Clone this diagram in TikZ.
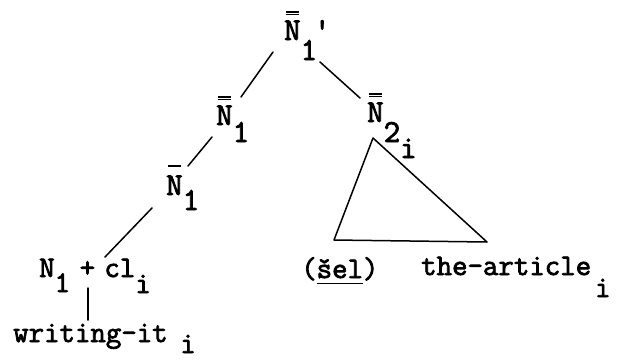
\documentclass[tikz,border=0pt]{standalone}
\usepackage{fontspec}
\usepackage{tikz}
\usetikzlibrary{
    positioning
}
\newfontfamily\heavytt{Latin Modern Mono}[FakeBold=2.5]
\newcommand{\catfont}{\heavytt\fontsize{32}{32}\selectfont}
\newcommand{\wordfont}{\heavytt\fontsize{30}{30}\selectfont}
\newcommand{\lowsub}[2]{\raisebox{-#1}{#2}}
\newcommand{\onebar}{\rlap{\hspace{0.05em}\raisebox{0.88em}{\rule{0.4em}{0.05em}}}}
\newcommand{\twobar}{\rlap{\hspace{0.05em}\raisebox{0.77em}{\rule{0.4em}{0.05em}}}\rlap{\hspace{0.05em}\raisebox{0.85em}{\rule{0.4em}{0.05em}}}}
\newlength{\typeulw}
\newcommand{\typeul}[1]{\settowidth{\typeulw}{#1}\rlap{\rule[-0.2em]{\typeulw}{0.05em}}#1}
\tikzset{
    cat/.style={
        inner sep=0pt,
        anchor=base west,
        font=\catfont
    },
    word/.style={
        inner sep=0pt,
        anchor=base west,
        font=\wordfont
    },
    branch/.style={
        line width=1.5pt,
        line cap=round
    }
}

\begin{document}
\begin{tikzpicture}[
    x=1pt,
    y=-1pt
]
    \useasboundingbox (0,0) rectangle (618,360);

    % Nodos
    \node[cat]  (top)   at (284,40)  {\twobar N\lowsub{20pt}{1}\kern-0.1em'};
    \node[cat]  (nbbl)  at (216,125) {\twobar N\lowsub{17pt}{1}};
    \node[cat]  (nbbr)  at (367,122) {\twobar N\lowsub{20pt}{2}\lowsub{36pt}{i}};
    \node[cat]  (nbar)  at (166,195) {\onebar N\lowsub{15pt}{1}};
    \node[word] (ncl)   at (39,277)  {N\lowsub{15pt}{1}\hspace{0.32em}+\hspace{0.31em}cl\lowsub{16pt}{i}};
    \node[word] (wrt)   at (13,342)  {writing-it\hspace{0.42em}\lowsub{11pt}{i}};
    \node[word] (sel)   at (301,278) {(\typeul{šel})};
    \node[word] (art)   at (421,275) {the-article\hspace{0.13em}\lowsub{22pt}{i}};

    % Triangulo
    \coordinate (triA) at ([shift={(6,16)}]nbbr.base west);
    \coordinate (triL) at ([shift={(33,-38)}]sel.base west);
    \coordinate (triR) at ([shift={(66,-33)}]art.base west);

    % Ramas
    \draw[branch] ([shift={(-11,12)}]top.base west) -- ([shift={(25,-28)}]nbbl.base west);
    \draw[branch] ([shift={(36,22)}]top.base west) -- ([shift={(-7,-24)}]nbbr.base west);
    \draw[branch] ([shift={(-4,12)}]nbbl.base west) -- ([shift={(22,-29)}]nbar.base west);
    \draw[branch] ([shift={(-14,13)}]nbar.base west) -- ([shift={(66,-20)}]ncl.base west);
    \draw[branch] ([shift={(49,11)}]ncl.base west) -- ([shift={(75,-22)}]wrt.base west);
    \draw[branch, line join=round] (triA) -- (triL) -- (triR) -- cycle;

\end{tikzpicture}
\end{document}
